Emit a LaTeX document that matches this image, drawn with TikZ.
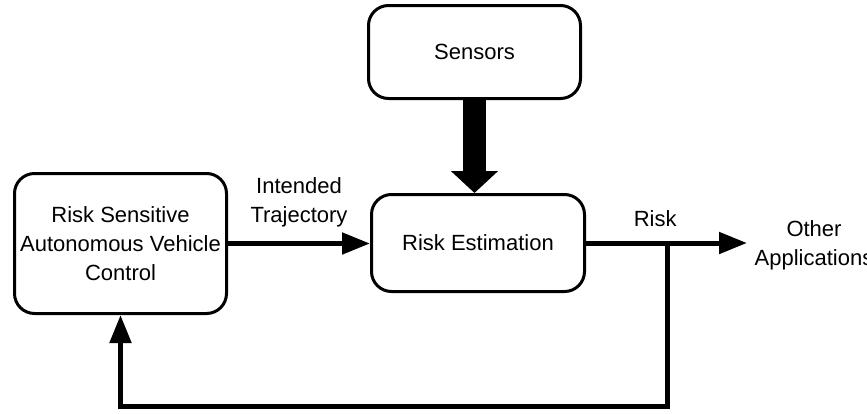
\documentclass[tikz,border=0pt]{standalone}
\usepackage{fontspec}
\setmainfont{Liberation Sans}
\usepackage{tikz}
\usetikzlibrary{arrows.meta,positioning}
\tikzset{
  blk/.style={draw,line width=1.5pt,rounded corners=10pt,align=center,inner sep=2pt,font=\fontsize{11}{14.5}\selectfont},
  lbl/.style={align=center,inner sep=1pt,font=\fontsize{11}{14.5}\selectfont},
  ar/.style={-{Triangle[length=14pt,width=10.5pt]},line width=2.5pt},
  fatar/.style={-{Triangle[length=11pt,width=23pt]},line width=11.5pt}
}
\begin{document}
\begin{tikzpicture}[x=0.5pt,y=-0.5pt]
\useasboundingbox (0,0) rectangle (867,413);
\node[blk,minimum width=106pt,minimum height=46.5pt] (sens) at (474.5,52) {Sensors};
\node[blk,minimum width=106.5pt,minimum height=48.5pt] (est) at (478,243) {Risk Estimation};
\node[blk,minimum width=106pt,minimum height=70pt] (ctrl) at (120.5,243.5) {Risk Sensitive\\Autonomous Vehicle\\Control};
\node[lbl] (oth) at (814,245) {Other\\Applications};
\coordinate (rout) at (747,243);
\coordinate (tap) at (667,243);
\coordinate (low) at (667,406);
% sensors feed the estimator
\draw[fatar] (sens.south) -- (sens.south |- est.north);
\draw[ar] (ctrl.east) -- (ctrl.east -| est.west) node[lbl,midway,above=6pt] {Intended\\Trajectory};
\draw[ar] (est.east) -- (rout) node[lbl,pos=0.43,above=6pt] {Risk};
% feedback loop
\draw[ar] (tap) -- (low) -| (ctrl.south);
\end{tikzpicture}
\end{document}
